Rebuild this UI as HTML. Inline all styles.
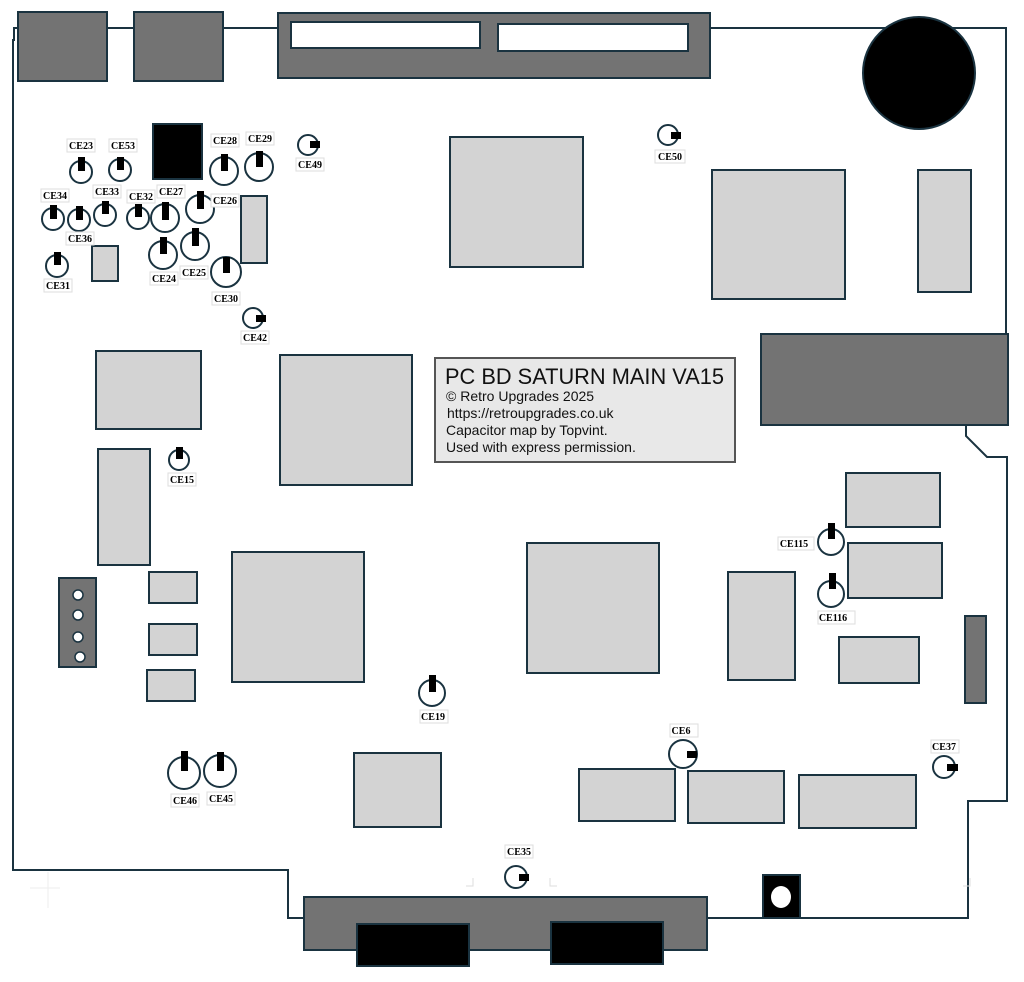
<!DOCTYPE html>
<html><head><meta charset="utf-8"><style>
html,body{margin:0;padding:0;background:#fff;width:1024px;height:982px;overflow:hidden}
svg{display:block}
.c{fill:#d3d3d3;stroke:#1a3340;stroke-width:2}
.d{fill:#737373;stroke:#1a3340;stroke-width:2}
.k{fill:#000;stroke:#1a3340;stroke-width:2}
.cap{fill:none;stroke:#1a3340;stroke-width:2}
.lb{fill:#fff;stroke:#ddd;stroke-width:1}
.lt{font-family:"Liberation Serif",serif;font-weight:bold;font-size:10px;fill:#000;text-anchor:middle}
.t{font-family:"Liberation Sans",sans-serif;fill:#111}
</style></head><body>
<svg width="1024" height="982" viewBox="0 0 1024 982" xmlns="http://www.w3.org/2000/svg">
<polyline fill="none" stroke="#1a3340" stroke-width="2" points="18,28 14,28 14,40 13,40 13,870 147,870 147,870 288,870 288,918 305,918"/>
<polyline fill="none" stroke="#1a3340" stroke-width="2" points="107,28 134,28"/>
<polyline fill="none" stroke="#1a3340" stroke-width="2" points="223,28 278,28"/>
<polyline fill="none" stroke="#1a3340" stroke-width="2" points="710,28 1006,28 1006,334"/>
<polyline fill="none" stroke="#1a3340" stroke-width="2" points="966,425 966,436 987,457 1007,457 1007,801 968,801 968,918 707,918"/>
<g stroke="#eee" stroke-width="1"><line x1="30" y1="888" x2="60" y2="888"/><line x1="48" y1="872" x2="48" y2="908"/></g>
<g stroke="#ddd" stroke-width="1" fill="none"><polyline points="473,878 473,886 466,886"/><polyline points="550,878 550,886 557,886"/><polyline points="970,878 970,886 963,886"/></g>

<rect class="d" x="18" y="12" width="89" height="69"/>
<rect class="d" x="134" y="12" width="89" height="69"/>
<rect class="d" x="278" y="13" width="432" height="65"/>
<rect x="291" y="22" width="189" height="26" fill="#fff" stroke="#1a3340" stroke-width="2"/>
<rect x="498" y="24" width="190" height="27" fill="#fff" stroke="#1a3340" stroke-width="2"/>
<circle cx="919" cy="73" r="56" class="k"/>
<rect class="k" x="153" y="124" width="49" height="55"/>

<rect class="c" x="450" y="137" width="133" height="130"/>
<rect class="c" x="712" y="170" width="133" height="129"/>
<rect class="c" x="918" y="170" width="53" height="122"/>
<rect class="c" x="241" y="196" width="26" height="67"/>
<rect class="c" x="92" y="246" width="26" height="35"/>
<rect class="c" x="96" y="351" width="105" height="78"/>
<rect class="c" x="280" y="355" width="132" height="130"/>
<rect class="c" x="98" y="449" width="52" height="116"/>
<rect class="c" x="149" y="572" width="48" height="31"/>
<rect class="c" x="149" y="624" width="48" height="31"/>
<rect class="c" x="147" y="670" width="48" height="31"/>
<rect class="c" x="232" y="552" width="132" height="130"/>
<rect class="c" x="527" y="543" width="132" height="130"/>
<rect class="c" x="728" y="572" width="67" height="108"/>
<rect class="c" x="846" y="473" width="94" height="54"/>
<rect class="c" x="848" y="543" width="94" height="55"/>
<rect class="c" x="839" y="637" width="80" height="46"/>
<rect class="c" x="354" y="753" width="87" height="74"/>
<rect class="c" x="579" y="769" width="96" height="52"/>
<rect class="c" x="688" y="771" width="96" height="52"/>
<rect class="c" x="799" y="775" width="117" height="53"/>

<rect class="d" x="761" y="334" width="247" height="91"/>
<rect class="d" x="965" y="616" width="21" height="87"/>
<rect class="d" x="59" y="578" width="37" height="89"/>
<g fill="#fff" stroke="#1a3340" stroke-width="1.5">
<circle cx="78" cy="595" r="5"/><circle cx="78" cy="615" r="5"/><circle cx="78" cy="637" r="5"/><circle cx="80" cy="657" r="5"/></g>

<rect class="d" x="304" y="897" width="403" height="53"/>
<rect class="k" x="357" y="924" width="112" height="42"/>
<rect class="k" x="551" y="922" width="112" height="42"/>
<rect class="k" x="763" y="875" width="37" height="43"/>
<ellipse cx="781" cy="897" rx="10" ry="11" fill="#fff"/>

<rect x="435" y="358" width="300" height="104" fill="#e8e8e8" stroke="#555" stroke-width="2"/>
<text class="t" x="445" y="384" font-size="21.8">PC BD SATURN MAIN VA15</text>
<text class="t" x="446" y="401" font-size="14">© Retro Upgrades 2025</text>
<text class="t" x="447" y="418" font-size="14">https://retroupgrades.co.uk</text>
<text class="t" x="446" y="435" font-size="14">Capacitor map by Topvint.</text>
<text class="t" x="446" y="452" font-size="14">Used with express permission.</text>

<g>
<circle class="cap" cx="81" cy="172" r="11"/><rect x="78" y="157" width="7" height="14"/>
<circle class="cap" cx="120" cy="170" r="11"/><rect x="117" y="157" width="7" height="13"/>
<circle class="cap" cx="224" cy="171" r="14"/><rect x="221" y="154" width="7" height="17"/>
<circle class="cap" cx="259" cy="167" r="14"/><rect x="256" y="151" width="7" height="16"/>
<circle class="cap" cx="53" cy="219" r="11"/><rect x="50" y="205" width="7" height="14"/>
<circle class="cap" cx="79" cy="220" r="11"/><rect x="76" y="206" width="7" height="14"/>
<circle class="cap" cx="105" cy="215" r="11"/><rect x="102" y="201" width="7" height="13"/>
<circle class="cap" cx="138" cy="218" r="11"/><rect x="135" y="204" width="7" height="13"/>
<circle class="cap" cx="165" cy="218" r="14"/><rect x="162" y="202" width="7" height="18"/>
<circle class="cap" cx="200" cy="209" r="14"/><rect x="197" y="191" width="7" height="18"/>
<circle class="cap" cx="163" cy="255" r="14"/><rect x="160" y="237" width="7" height="17"/>
<circle class="cap" cx="195" cy="246" r="14"/><rect x="192" y="228" width="7" height="18"/>
<circle class="cap" cx="226" cy="272" r="15"/><rect x="223" y="257" width="7" height="16"/>
<circle class="cap" cx="57" cy="266" r="11"/><rect x="54" y="252" width="7" height="13"/>
<circle class="cap" cx="179" cy="460" r="10"/><rect x="176" y="447" width="7" height="12"/>
<circle class="cap" cx="831" cy="542" r="13"/><rect x="828" y="523" width="7" height="16"/>
<circle class="cap" cx="831" cy="594" r="13"/><rect x="829" y="573" width="7" height="16"/>
<circle class="cap" cx="432" cy="693" r="13"/><rect x="429" y="675" width="7" height="17"/>
<circle class="cap" cx="184" cy="773" r="16"/><rect x="181" y="751" width="7" height="20"/>
<circle class="cap" cx="220" cy="771" r="16"/><rect x="217" y="752" width="7" height="19"/>
<circle class="cap" cx="308" cy="145" r="10"/><rect x="310" y="141" width="10" height="7"/>
<circle class="cap" cx="253" cy="318" r="10"/><rect x="256" y="315" width="10" height="7"/>
<circle class="cap" cx="668" cy="135" r="10"/><rect x="671" y="132" width="10" height="7"/>
<circle class="cap" cx="683" cy="754" r="14"/><rect x="687" y="751" width="10" height="7"/>
<circle class="cap" cx="944" cy="767" r="11"/><rect x="947" y="764" width="11" height="7"/>
<circle class="cap" cx="516" cy="877" r="11"/><rect x="519" y="874" width="10" height="7"/>
</g>

<g>
<rect class="lb" x="67" y="139" width="28" height="13"/><text class="lt" x="81" y="149">CE23</text>
<rect class="lb" x="109" y="139" width="28" height="13"/><text class="lt" x="123" y="149">CE53</text>
<rect class="lb" x="211" y="134" width="28" height="13"/><text class="lt" x="225" y="144">CE28</text>
<rect class="lb" x="246" y="132" width="28" height="13"/><text class="lt" x="260" y="142">CE29</text>
<rect class="lb" x="296" y="158" width="28" height="13"/><text class="lt" x="310" y="168">CE49</text>
<rect class="lb" x="41" y="189" width="28" height="13"/><text class="lt" x="55" y="199">CE34</text>
<rect class="lb" x="66" y="232" width="28" height="13"/><text class="lt" x="80" y="242">CE36</text>
<rect class="lb" x="93" y="185" width="28" height="13"/><text class="lt" x="107" y="195">CE33</text>
<rect class="lb" x="127" y="190" width="28" height="13"/><text class="lt" x="141" y="200">CE32</text>
<rect class="lb" x="157" y="185" width="28" height="13"/><text class="lt" x="171" y="195">CE27</text>
<rect class="lb" x="211" y="194" width="28" height="13"/><text class="lt" x="225" y="204">CE26</text>
<rect class="lb" x="150" y="272" width="28" height="13"/><text class="lt" x="164" y="282">CE24</text>
<rect class="lb" x="180" y="266" width="28" height="13"/><text class="lt" x="194" y="276">CE25</text>
<rect class="lb" x="212" y="292" width="28" height="13"/><text class="lt" x="226" y="302">CE30</text>
<rect class="lb" x="44" y="279" width="28" height="13"/><text class="lt" x="58" y="289">CE31</text>
<rect class="lb" x="241" y="331" width="28" height="13"/><text class="lt" x="255" y="341">CE42</text>
<rect class="lb" x="168" y="473" width="28" height="13"/><text class="lt" x="182" y="483">CE15</text>
<rect class="lb" x="655" y="150" width="30" height="13"/><text class="lt" x="670" y="160">CE50</text>
<rect class="lb" x="778" y="537" width="36" height="13"/><text class="lt" x="794" y="547">CE115</text>
<rect class="lb" x="818" y="611" width="37" height="13"/><text class="lt" x="833" y="621">CE116</text>
<rect class="lb" x="420" y="710" width="28" height="13"/><text class="lt" x="433" y="720">CE19</text>
<rect class="lb" x="670" y="724" width="28" height="13"/><text class="lt" x="681" y="734">CE6</text>
<rect class="lb" x="931" y="740" width="28" height="13"/><text class="lt" x="944" y="750">CE37</text>
<rect class="lb" x="171" y="794" width="28" height="13"/><text class="lt" x="185" y="804">CE46</text>
<rect class="lb" x="207" y="792" width="28" height="13"/><text class="lt" x="221" y="802">CE45</text>
<rect class="lb" x="505" y="845" width="28" height="13"/><text class="lt" x="519" y="855">CE35</text>
</g>
</svg>
</body></html>
